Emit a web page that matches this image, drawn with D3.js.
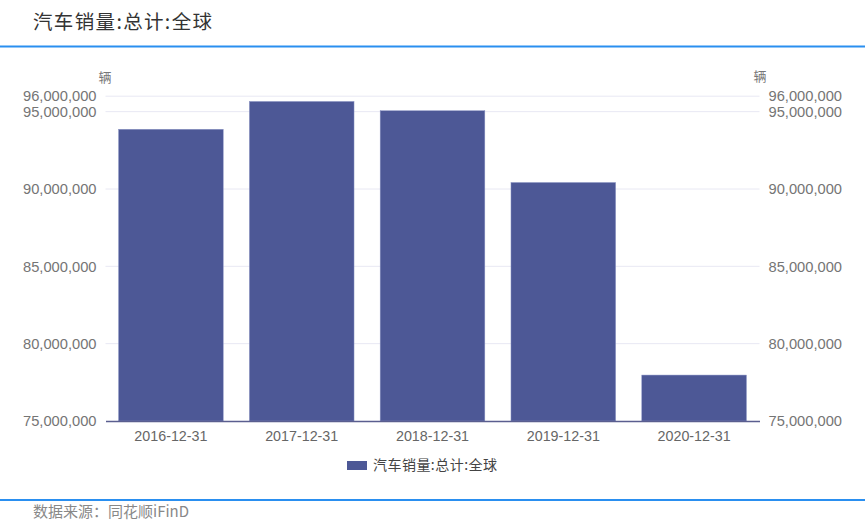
<!DOCTYPE html>
<html><head><meta charset="utf-8">
<script src="https://cdn.jsdelivr.net/npm/d3@7"></script>
<style>body{margin:0;background:#fff;}svg{display:block;}</style>
</head><body>
<svg id="c" width="865" height="527"></svg>
<script>
const categories = ["2016-12-31","2017-12-31","2018-12-31","2019-12-31","2020-12-31"];
const seriesName = "汽车销量:总计:全球";
const sales = [93860000, 95660000, 95060000, 90420000, 77970000];
const yTicks = [75000000, 80000000, 85000000, 90000000, 95000000, 96000000];
const yDomain = [75000000, 96000000];
const titleText = "汽车销量:总计:全球";
const unitText = "辆";
const sourceText = "数据来源：同花顺iFinD";

const svg = d3.select("#c");
const W = 865, H = 527;
const m = {left: 105.5, right: 759.5, top: 96.2, bottom: 421};
const fontNum = "'Liberation Sans', Arial, sans-serif";
const fontCJK = "'Noto Sans CJK SC', 'Noto Sans', sans-serif";

// title and frame lines
svg.append("text").attr("x", 33).attr("y", 29).attr("font-family", fontCJK)
  .attr("font-size", 19.5).attr("fill", "#333").attr("textLength", 179).attr("lengthAdjust", "spacing").text(titleText);
svg.append("rect").attr("x", 0).attr("y", 45.5).attr("width", W).attr("height", 2).attr("fill", "#2a8ff0");
svg.append("rect").attr("x", 0).attr("y", 499).attr("width", W).attr("height", 2).attr("fill", "#2a8ff0");
svg.append("text").attr("x", 33).attr("y", 517).attr("font-family", fontCJK)
  .attr("font-size", 15).attr("fill", "#888").text(sourceText);

const x = d3.scaleBand().domain(categories).range([m.left, m.right]).paddingInner(0.2).paddingOuter(0.1);
const y = d3.scaleLinear().domain(yDomain).range([m.bottom, m.top]);
const fmt = d3.format(",");

// gridlines
svg.append("g").selectAll("line").data(yTicks.filter(t => t > yDomain[0])).join("line")
  .attr("x1", m.left).attr("x2", m.right).attr("y1", d => y(d)).attr("y2", d => y(d))
  .attr("stroke", "#e8e8f3").attr("stroke-width", 1);

// bars
svg.append("g").selectAll("rect").data(sales).join("rect")
  .attr("x", (d, i) => x(categories[i])).attr("width", x.bandwidth())
  .attr("y", d => y(d)).attr("height", d => y(yDomain[0]) - y(d))
  .attr("fill", "#4d5896").attr("stroke", "#8a93c4").attr("stroke-width", 0.5);

// left axis
const left = svg.append("g").attr("transform", `translate(${m.left},0)`)
  .call(d3.axisLeft(y).tickValues(yTicks).tickFormat(fmt).tickSize(0).tickPadding(9));
left.select(".domain").remove();
left.selectAll("text").attr("font-family", fontNum).attr("font-size", 14.7).attr("fill", "#757575");

// right axis
const right = svg.append("g").attr("transform", `translate(${m.right},0)`)
  .call(d3.axisRight(y).tickValues(yTicks).tickFormat(fmt).tickSize(0).tickPadding(9));
right.select(".domain").remove();
right.selectAll("text").attr("font-family", fontNum).attr("font-size", 14.7).attr("fill", "#757575");

// x axis
const bottom = svg.append("g").attr("transform", `translate(0,${m.bottom})`)
  .call(d3.axisBottom(x).tickSize(0).tickPadding(10).tickSizeOuter(0));
bottom.select(".domain").attr("stroke", "#5a5e8f").attr("stroke-width", 1.5);
bottom.selectAll("text").attr("font-family", fontNum).attr("font-size", 14.3).attr("fill", "#666");

// units
svg.append("text").attr("x", 105).attr("y", 82).attr("text-anchor", "middle").attr("font-family", fontCJK)
  .attr("font-size", 13).attr("fill", "#777").text(unitText);
svg.append("text").attr("x", 760).attr("y", 81).attr("text-anchor", "middle").attr("font-family", fontCJK)
  .attr("font-size", 13).attr("fill", "#777").text(unitText);

// legend
svg.append("rect").attr("x", 347).attr("y", 461).attr("width", 20).attr("height", 9).attr("fill", "#4d5896");
svg.append("text").attr("x", 373).attr("y", 470).attr("font-family", fontCJK)
  .attr("font-size", 14).attr("fill", "#444").attr("textLength", 124).attr("lengthAdjust", "spacing").text(seriesName);
</script>
</body></html>
